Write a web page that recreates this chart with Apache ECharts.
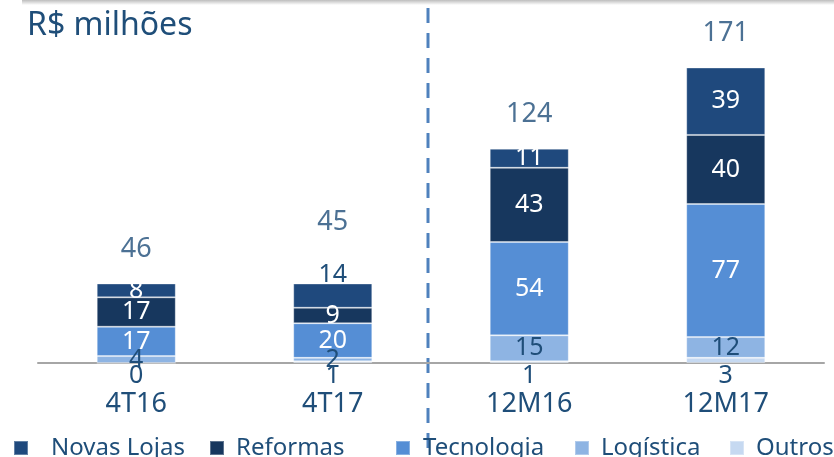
<!DOCTYPE html>
<html>
<head>
<meta charset="utf-8">
<script src="https://cdn.jsdelivr.net/npm/echarts@6/dist/echarts.min.js"></script>
<style>
  html, body { margin: 0; padding: 0; background: #fff; }
  #chart { width: 834px; height: 457px; }
</style>
</head>
<body>
<div id="chart"></div>
<script>
var categories = ['4T16', '4T17', '12M16', '12M17'];
var outros = [0, 1, 1, 3];
var logistica = [4, 2, 15, 12];
var tecnologia = [17, 20, 54, 77];
var reformas = [17, 9, 43, 40];
var novasLojas = [8, 14, 11, 39];
var totals = [46, 45, 124, 171];
var legendNames = ['Novas Lojas', 'Reformas', 'Tecnologia', 'Logística', 'Outros'];

var textBlue = '#1f4e79';
var font = 'Noto Sans';

var chart = echarts.init(document.getElementById('chart'), null, { renderer: 'canvas' });

function barSeries(name, data, color, labelColor, extra) {
    var s = {
        name: name,
        type: 'bar',
        stack: 'total',
        barWidth: 79,
        data: data,
        itemStyle: { color: color, borderColor: 'rgba(255,255,255,0.3)', borderWidth: 1 },
        label: {
            show: true,
            position: 'inside',
            color: labelColor,
            fontFamily: font,
            fontSize: 25
        }
    };
    if (extra) extra(s);
    return s;
}

// legend entries are spread unevenly in the original, so one legend per entry
var legendX = [13, 209, 395, 574, 729];
var legendPad = [18, 7, 8, 7, 7];
var legends = legendNames.map(function (n, i) {
    return {
        data: [n],
        left: legendX[i],
        top: 436,
        padding: 0,
        icon: 'rect',
        itemWidth: 14,
        itemHeight: 14,
        formatter: function (name) { return '{g|}' + name; },
        textStyle: {
            color: textBlue, fontFamily: font, fontSize: 24,
            rich: { g: { width: legendPad[i] } }
        }
    };
});

var option = {
    animation: false,
    title: {
        text: 'R$ milhões',
        left: 22,
        top: 5,
        textStyle: { color: textBlue, fontFamily: font, fontSize: 32, fontWeight: 'normal' }
    },
    legend: legends,
    grid: { left: 38, right: 10, top: 52, bottom: 94 },
    xAxis: {
        type: 'category',
        data: categories,
        axisLine: { lineStyle: { color: '#a6a6a6', width: 2 } },
        axisTick: { show: false },
        axisLabel: { color: textBlue, fontFamily: font, fontSize: 27, margin: 28 }
    },
    yAxis: {
        type: 'value',
        min: 0,
        max: 180,
        show: false
    },
    series: [
        barSeries('Outros', outros, '#c6d9f1', textBlue, function (s) {
            s.label.position = 'bottom';
            s.label.distance = 0;
        }),
        barSeries('Logística', logistica, '#8eb4e3', textBlue),
        barSeries('Tecnologia', tecnologia, '#558ed5', '#fff'),
        barSeries('Reformas', reformas, '#17375e', '#fff'),
        barSeries('Novas Lojas', novasLojas, '#1f497d', '#fff', function (s) {
            // the small 4T17 value sits above its segment, in dark text
            s.data = novasLojas.map(function (v, i) {
                return i === 1 ? { value: v, label: { offset: [0, -21], color: textBlue } } : v;
            });
        }),
        {
            name: 'Total',
            type: 'scatter',
            symbolSize: 0,
            data: totals.map(function (v, i) {
                return i === 1 ? { value: v, label: { distance: 49 } } : v;
            }),
            label: {
                show: true,
                position: 'top',
                distance: 21,
                color: textBlue,
                fontFamily: font,
                fontSize: 27
            },
            tooltip: { show: false }
        }
    ]
};
chart.setOption(option);

// dashed divider between the quarterly and the yearly bars
var xa = chart.convertToPixel({ xAxisIndex: 0 }, categories[1]);
var xb = chart.convertToPixel({ xAxisIndex: 0 }, categories[2]);
var xm = (xa + xb) / 2 - 3;
chart.setOption({
    graphic: [
        {
            type: 'rect',
            shape: { x: 22, y: 0, width: 812, height: 5 },
            style: {
                fill: new echarts.graphic.LinearGradient(0, 0, 0, 1, [
                    { offset: 0, color: '#bdbdbd' },
                    { offset: 1, color: '#ffffff' }
                ])
            }
        },
        {
            type: 'line',
            shape: { x1: xm, y1: 8, x2: xm, y2: 457 },
            style: { stroke: '#4f81bd', lineWidth: 3, lineDash: [15, 10] }
        }
    ]
});
</script>
</body>
</html>
